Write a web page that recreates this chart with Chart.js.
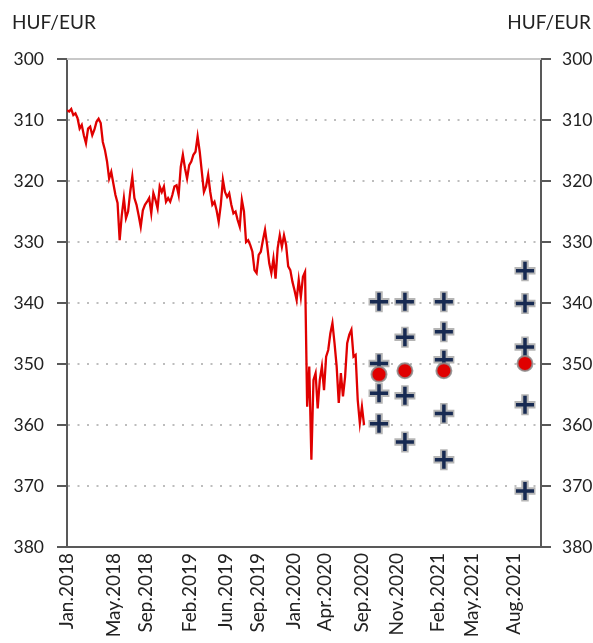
<!DOCTYPE html>
<html>
<head>
<meta charset="utf-8">
<title>HUF/EUR</title>
<script src="https://cdn.jsdelivr.net/npm/chart.js@4/dist/chart.umd.min.js"></script>
<style>
    html, body { margin: 0; padding: 0; background: #ffffff; overflow: hidden; }
    #wrap { width: 593px; height: 643px; }
</style>
</head>
<body>
<div id="wrap"><canvas id="rateChart" width="593" height="643"></canvas></div>
<script>
// Weekly HUF/EUR rate, week 0 = first week of Jan.2018
const rateValues = [
    308.4, 308.6, 308.2, 309.2, 308.9, 309.7, 311.4, 310.8, 312.5, 313.8,
    311.4, 311.1, 312.5, 311.6, 310.3, 309.8, 310.5, 313.6, 314.9, 316.8,
    319.6, 318.5, 320.4, 322.3, 323.6, 329.7, 325.6, 322.8, 326.1, 325.0,
    321.8, 319.3, 322.8, 323.9, 325.6, 327.5, 324.8, 323.9, 323.4, 322.8,
    325.3, 322.0, 323.1, 324.5, 320.9, 321.8, 320.9, 323.4, 322.8, 323.4,
    322.3, 320.9, 320.7, 322.3, 317.7, 315.7, 317.9, 319.6, 317.4, 316.8,
    315.7, 315.2, 312.7, 315.2, 318.5, 321.8, 320.9, 319.0, 321.8, 323.9,
    323.4, 324.8, 326.7, 323.9, 319.8, 321.8, 322.6, 322.0, 323.9, 325.3,
    325.0, 326.4, 327.5, 323.1, 325.0, 330.0, 329.7, 330.5, 331.6, 334.6,
    335.1, 332.1, 331.6, 329.7, 328.0, 330.5, 333.5, 335.1, 332.7, 336.0,
    331.0, 328.9, 330.8, 328.9, 330.5, 334.0, 334.6, 336.5, 337.9, 339.5,
    336.2, 339.0, 335.7, 334.9, 357.0, 350.4, 365.7, 352.6, 351.5, 357.3,
    352.6, 350.4, 354.3, 348.8, 347.7, 345.0, 343.3, 346.6, 350.4, 356.4,
    351.5, 355.3, 352.1, 346.6, 345.2, 344.4, 348.8, 348.5, 355.9, 359.7,
    357.0, 360.0
];

// Analyst forecasts, one column per forecast date
const forecastWeeks = [148.1, 160.4, 178.9, 217.4];
const forecastValues = [
    [339.8, 349.9, 354.8, 359.8],
    [339.8, 345.6, 355.2, 362.8],
    [339.8, 344.7, 349.3, 358.1, 365.7],
    [334.7, 340.1, 347.2, 356.7, 370.8]
];
const forecastMeans = [351.7, 351.1, 351.1, 349.9];

// x axis labels and the week they sit on
const tickLabels = ["Jan.2018", "May.2018", "Sep.2018", "Feb.2019", "Jun.2019", "Sep.2019",
    "Jan.2020", "Apr.2020", "Sep.2020", "Nov.2020", "Feb.2021", "May.2021", "Aug.2021"];
const tickWeeks = [0, 22.3, 37.5, 58.4, 75.5, 90.6, 107.7, 122.4, 140, 156.6, 176.1, 192.2, 212.2];

const yTicks = [300, 310, 320, 330, 340, 350, 360, 370, 380];
const unitLabel = "HUF/EUR";

const FONT = "Lato, 'Open Sans', sans-serif";
const AXIS_GREY = "#595959";

const ratePoints = rateValues.map((v, i) => ({ x: i, y: v }));
const crossPoints = [];
forecastValues.forEach((col, i) => {
    col.forEach(v => crossPoints.push({ x: forecastWeeks[i], y: v }));
});
const meanPoints = forecastMeans.map((v, i) => ({ x: forecastWeeks[i], y: v }));

// unit labels above both y axes and the light frame line on top
const framePlugin = {
    id: "frame",
    afterDraw(chart) {
        const ctx = chart.ctx;
        const area = chart.chartArea;
        ctx.save();
        ctx.strokeStyle = "#c8c8c8";
        ctx.lineWidth = 2;
        ctx.beginPath();
        ctx.moveTo(area.left, area.top);
        ctx.lineTo(area.right, area.top);
        ctx.stroke();

        ctx.fillStyle = "#222222";
        ctx.font = "19px " + FONT;
        ctx.textBaseline = "alphabetic";
        ctx.textAlign = "left";
        ctx.fillText(unitLabel, 12, area.top - 30);
        ctx.textAlign = "right";
        ctx.fillText(unitLabel, chart.width - 2, area.top - 30);
        ctx.restore();
    }
};

function yAxis(position, onChart, pad) {
    return {
        type: "linear",
        position: position,
        reverse: true,
        min: 300,
        max: 380,
        afterBuildTicks: scale => { scale.ticks = yTicks.map(v => ({ value: v })); },
        afterFit: scale => { scale.width = position === "left" ? 67 : 52; },
        ticks: {
            color: "#222222",
            font: { family: FONT, size: 17.5 },
            padding: pad
        },
        grid: {
            drawOnChartArea: onChart,
            color: "#bdbdbd",
            lineWidth: 2,
            tickColor: AXIS_GREY,
            tickWidth: 2,
            tickLength: 10
        },
        border: {
            color: AXIS_GREY,
            width: 2,
            dash: [2, 7.5]
        }
    };
}

new Chart(document.getElementById("rateChart"), {
    type: "scatter",
    data: {
        datasets: [
            {
                label: "Means",
                data: meanPoints,
                pointRadius: 7.5,
                pointBackgroundColor: "#e00000",
                pointBorderColor: "rgba(140, 140, 140, 0.85)",
                pointBorderWidth: 2,
                order: 0
            },
            {
                label: "Forecasts",
                data: crossPoints,
                pointStyle: "cross",
                pointRadius: 9,
                pointBorderColor: "#172a52",
                pointBorderWidth: 3.5,
                order: 1
            },
            {
                label: "Forecasts shadow",
                data: crossPoints,
                pointStyle: "cross",
                pointRadius: 10.5,
                pointBorderColor: "rgba(150, 150, 150, 0.7)",
                pointBorderWidth: 7.5,
                order: 2
            },
            {
                label: "HUF/EUR",
                data: ratePoints,
                showLine: true,
                borderColor: "#e00000",
                borderWidth: 2.3,
                pointRadius: 0,
                tension: 0,
                order: 3
            }
        ]
    },
    options: {
        responsive: false,
        animation: false,
        events: [],
        layout: { padding: { top: 59, left: 0, right: 0, bottom: 0 } },
        plugins: {
            legend: { display: false },
            tooltip: { enabled: false }
        },
        scales: {
            x: {
                type: "linear",
                min: 0,
                max: 225,
                afterBuildTicks: scale => { scale.ticks = tickWeeks.map(v => ({ value: v })); },
                afterFit: scale => { scale.height = 96; },
                ticks: {
                    autoSkip: false,
                    maxRotation: 90,
                    minRotation: 90,
                    padding: 6,
                    color: "#222222",
                    font: { family: FONT, size: 19 },
                    callback: (value, index) => tickLabels[index]
                },
                grid: { display: false, drawTicks: false },
                border: { display: true, color: AXIS_GREY, width: 2 }
            },
            y: yAxis("left", true, 13),
            y2: yAxis("right", false, 11)
        }
    },
    plugins: [framePlugin]
});
</script>
</body>
</html>
